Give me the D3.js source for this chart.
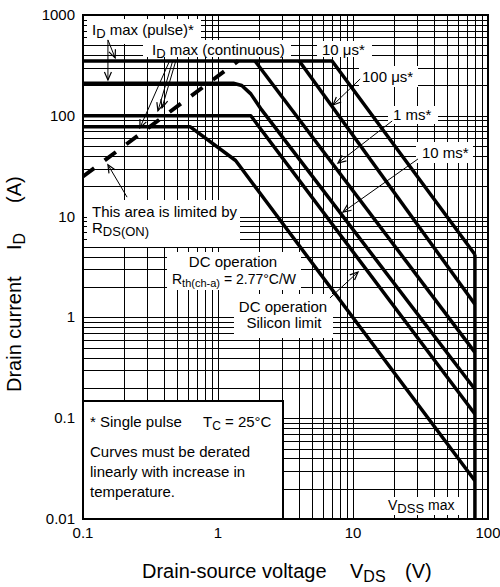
<!DOCTYPE html>
<html>
<head>
<meta charset="utf-8">
<script src="https://cdn.jsdelivr.net/npm/d3@7"></script>
<style>
  html, body { margin: 0; padding: 0; background: #fff; }
  svg { display: block; font-family: "Liberation Sans", Arial, sans-serif; }
</style>
</head>
<body>
<svg id="chart" width="500" height="587"></svg>
<script>
// --- data (V, A) ---
const xTicks = [0.1, 1, 10, 100];
const xTickLabels = ["0.1", "1", "10", "100"];
const yTicks = [0.01, 0.1, 1, 10, 100, 1000];
const yTickLabels = ["0.01", "0.1", "1", "10", "100", "1000"];

const vdssMax = 80;
const rdsOnLine = [[0.1, 25], [1.41, 350]];
const curve10us = [[0.1, 350], [7.0, 350], [80, 4.2]];
const curve100us = [[4.0, 350], [80, 1.35]];
const curve1ms = [[1.88, 350], [80, 0.45]];
const curve10ms = [[0.1, 210], [1.3, 210], [1.5, 200], [1.75, 165], [2.1, 115], [80, 0.194]];
const curveSilicon = [[0.1, 100], [1.75, 100], [80, 0.11]];
const curveDC = [[0.1, 78], [0.62, 78], [1.35, 36], [80, 0.024]];
const vdssDrop = [[vdssMax, 4.2], [vdssMax, 0.01]];

// arrows: [fromV, fromI, toV, toI]
const arrows = [
  [0.153, 566, 0.153, 227],
  [0.153, 566, 0.173, 375],
  [0.489, 358, 0.385, 120],
  [0.464, 358, 0.359, 112],
  [0.441, 358, 0.264, 76],
  [0.212, 15.6, 0.153, 32.7],
  [11.3, 232, 7.11, 128],
  [19.5, 88.8, 7.74, 34],
  [30.3, 37.3, 8.43, 11.1],
  [6.75, 1.56, 10.9, 2.82]
];

const svg = d3.select("#chart");
const x = d3.scaleLog().domain([0.1, 100]).range([83, 488]);
const y = d3.scaleLog().domain([0.01, 1000]).range([519, 15]);
const [x0, x1] = x.range();
const [y0, y1] = y.range();

// --- grid ---
const grid = svg.append("g").attr("shape-rendering", "crispEdges");
grid.selectAll(".gx").data(x.ticks()).enter().append("line")
  .attr("x1", d => Math.round(x(d)) + 0.5).attr("x2", d => Math.round(x(d)) + 0.5)
  .attr("y1", y1).attr("y2", y0).attr("stroke", "#000").attr("stroke-width", 1);
grid.selectAll(".gy").data(y.ticks()).enter().append("line")
  .attr("y1", d => Math.round(y(d)) + 0.5).attr("y2", d => Math.round(y(d)) + 0.5)
  .attr("x1", x0).attr("x2", x1).attr("stroke", "#000").attr("stroke-width", 1);

// --- white label backgrounds ---
const boxes = [
  [85, 17, 201, 44],
  [143, 40, 291, 57],
  [317, 41, 372, 57],
  [359, 66, 418, 87],
  [388, 106, 438, 124],
  [416, 142, 473, 163],
  [84, 200, 240, 247],
  [167, 252, 301, 290],
  [234, 294, 333, 338],
  [383, 497, 463, 518]
];
svg.append("g").selectAll("rect").data(boxes).enter().append("rect")
  .attr("x", d => d[0]).attr("y", d => d[1])
  .attr("width", d => d[2] - d[0]).attr("height", d => d[3] - d[1])
  .attr("fill", "#fff");

// inward ticks
const ticks = svg.append("g").attr("stroke", "#000").attr("shape-rendering", "crispEdges");
x.ticks().forEach(d => {
  const px = Math.round(x(d)) + 0.5;
  ticks.append("line").attr("x1", px).attr("x2", px).attr("y1", y1).attr("y2", y1 + 4);
  ticks.append("line").attr("x1", px).attr("x2", px).attr("y1", y0).attr("y2", y0 - 4);
});
y.ticks().forEach(d => {
  const py = Math.round(y(d)) + 0.5;
  ticks.append("line").attr("y1", py).attr("y2", py).attr("x1", x0).attr("x2", x0 + 4);
  ticks.append("line").attr("y1", py).attr("y2", py).attr("x1", x1).attr("x2", x1 - 4);
});

// note box
svg.append("rect").attr("x", x0).attr("y", 401).attr("width", 200).attr("height", y0 - 401)
  .attr("fill", "#fff").attr("stroke", "#000").attr("stroke-width", 2);

// --- curves ---
const line = d3.line().x(d => x(d[0])).y(d => y(d[1]));
const curves = [curve10us, curve100us, curve1ms, curve10ms, curveSilicon, curveDC, vdssDrop];
svg.append("g").selectAll("path").data(curves).enter().append("path")
  .attr("d", line).attr("fill", "none").attr("stroke", "#000")
  .attr("stroke-width", 3.5).attr("stroke-linejoin", "round");

svg.append("path").attr("d", line(rdsOnLine)).attr("fill", "none")
  .attr("stroke", "#000").attr("stroke-width", 4).attr("stroke-dasharray", "14,13");

// frame
svg.append("rect").attr("x", x0).attr("y", y1).attr("width", x1 - x0).attr("height", y0 - y1)
  .attr("fill", "none").attr("stroke", "#000").attr("stroke-width", 2);

// --- arrows ---
svg.append("defs").append("marker").attr("id", "arr")
  .attr("viewBox", "-10 -5 12 10").attr("refX", 0).attr("refY", 0)
  .attr("markerWidth", 12).attr("markerHeight", 10).attr("markerUnits", "userSpaceOnUse")
  .attr("orient", "auto")
  .append("path").attr("d", "M-8,-3.5L0,0L-8,3.5").attr("fill", "none")
  .attr("stroke", "#000").attr("stroke-width", 1.2);
svg.append("g").selectAll("line").data(arrows).enter().append("line")
  .attr("x1", d => x(d[0])).attr("y1", d => y(d[1]))
  .attr("x2", d => x(d[2])).attr("y2", d => y(d[3]))
  .attr("stroke", "#000").attr("stroke-width", 1).attr("marker-end", "url(#arr)");

// --- text helper ---
function rich(g, px, py, parts, size, opts = {}) {
  const t = g.append("text").attr("x", px).attr("y", py)
    .attr("font-size", size).attr("fill", "#000");
  if (opts.anchor) t.attr("text-anchor", opts.anchor);
  if (opts.transform) t.attr("transform", opts.transform);
  let down = 0;
  parts.forEach(p => {
    const s = t.append("tspan").text(p[0]);
    const want = p[1] ? (p[2] || 3) : 0;
    if (want !== down) { s.attr("dy", want - down); down = want; }
    if (p[1]) s.attr("font-size", p[1]);
  });
  return t;
}

const labels = svg.append("g");
rich(labels, 92, 35, [["I"], ["D", 13, 3], [" max (pulse)*"]], 15);
rich(labels, 152, 55, [["I"], ["D", 13, 3], [" max (continuous)"]], 15);
rich(labels, 322, 55, [["10 \u03bcs*"]], 15);
rich(labels, 362, 82, [["100 \u03bcs*"]], 15);
rich(labels, 393, 120, [["1 ms*"]], 15);
rich(labels, 422, 158, [["10 ms*"]], 15);
rich(labels, 92, 217, [["This area is limited by"]], 15);
rich(labels, 92, 233, [["R"], ["DS(ON)", 13, 3]], 15);
rich(labels, 233, 267, [["DC operation"]], 15, { anchor: "middle" });
rich(labels, 234, 284, [["R"], ["th(ch-a)", 11, 3], [" = 2.77\u00b0C/W"]], 14, { anchor: "middle" });
rich(labels, 283, 312, [["DC operation"]], 15, { anchor: "middle" });
rich(labels, 284, 328, [["Silicon limit"]], 15, { anchor: "middle" });
rich(labels, 90, 427, [["* Single pulse"]], 15);
rich(labels, 203, 427, [["T"], ["C", 12, 3], [" = 25\u00b0C"]], 15);
rich(labels, 90, 457, [["Curves must be derated"]], 15);
rich(labels, 90, 477, [["linearly with increase in"]], 15);
rich(labels, 90, 497, [["temperature."]], 15);
rich(labels, 388, 510, [["V"], ["DSS", 13, 3], [" max"]], 14);

// tick labels
svg.append("g").selectAll("text").data(xTicks).enter().append("text")
  .attr("x", d => x(d)).attr("y", 538).attr("text-anchor", "middle")
  .attr("font-size", 15).text((d, i) => xTickLabels[i]);
svg.append("g").selectAll("text").data(yTicks).enter().append("text")
  .attr("x", 75).attr("y", d => y(d) + 5).attr("text-anchor", "end")
  .attr("font-size", 15).text((d, i) => yTickLabels[i]);

// axis titles
rich(svg, 142, 578, [["Drain-source voltage"]], 20);
rich(svg, 350, 578, [["V"], ["DS", 16, 4]], 20);
rich(svg, 405, 578, [["(V)"]], 20);
rich(svg, 0, 0, [["Drain current"]], 20, { transform: "translate(21,392) rotate(-90)" });
rich(svg, 0, 0, [["I"], ["D", 16, 4]], 20, { transform: "translate(21,250) rotate(-90)" });
rich(svg, 0, 0, [["(A)"]], 20, { transform: "translate(21,203) rotate(-90)" });
</script>
</body>
</html>
